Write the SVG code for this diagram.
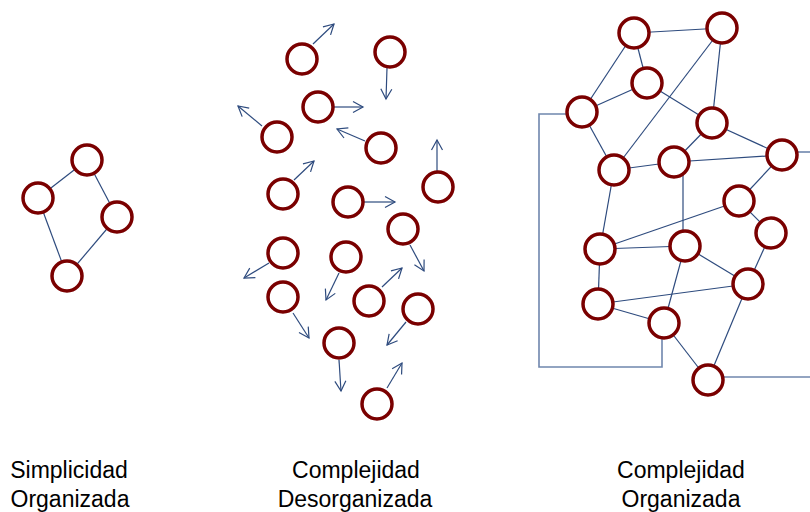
<svg xmlns="http://www.w3.org/2000/svg" width="810" height="512" viewBox="0 0 810 512">
<style>
.n{fill:#fff;stroke:#7a0000;stroke-width:3.5}
.e{stroke:#2e4b7e;stroke-width:1.2;fill:none}
.a{stroke:#2e4b7e;stroke-width:1.2;fill:none;marker-end:url(#ah)}
.p{stroke:#6f86ad;stroke-width:1.6;fill:none}
.t{font-family:"Liberation Sans",Arial,sans-serif;font-size:23px;fill:#000;text-anchor:middle}
</style>
<defs>
<marker id="ah" markerUnits="userSpaceOnUse" markerWidth="14" markerHeight="14" viewBox="-12 -7 14 14" refX="0" refY="0" orient="auto">
<path d="M-10,-5.5 L0,0 L-10,5.5" fill="none" stroke="#2e4b7e" stroke-width="1.2"/>
</marker>
</defs>
<rect width="810" height="512" fill="#fff"/>
<g id="connectors">
<line class="e" x1="87" y1="160" x2="38" y2="198"/>
<line class="e" x1="87" y1="160" x2="117" y2="217"/>
<line class="e" x1="38" y1="198" x2="67" y2="276"/>
<line class="e" x1="117" y1="217" x2="67" y2="276"/>
<line class="a" x1="313" y1="44" x2="334" y2="24"/>
<line class="a" x1="387" y1="68" x2="386" y2="99"/>
<line class="a" x1="333" y1="107" x2="363" y2="107"/>
<line class="a" x1="262" y1="126" x2="238" y2="106"/>
<line class="a" x1="365" y1="141" x2="337" y2="129"/>
<line class="a" x1="437" y1="171" x2="437" y2="140"/>
<line class="a" x1="294" y1="180" x2="314" y2="161"/>
<line class="a" x1="364" y1="202" x2="395" y2="202"/>
<line class="a" x1="410" y1="245" x2="424" y2="271"/>
<line class="a" x1="269" y1="263" x2="244" y2="278"/>
<line class="a" x1="339" y1="273" x2="326" y2="300"/>
<line class="a" x1="382" y1="287" x2="402" y2="268"/>
<line class="a" x1="293" y1="313" x2="309" y2="338"/>
<line class="a" x1="406" y1="322" x2="387" y2="345"/>
<line class="a" x1="339" y1="360" x2="341" y2="391"/>
<line class="a" x1="387" y1="388" x2="402" y2="363"/>
<line class="e" x1="634" y1="33" x2="722" y2="28"/>
<line class="e" x1="634" y1="33" x2="582" y2="112"/>
<line class="e" x1="634" y1="33" x2="647" y2="83"/>
<line class="e" x1="647" y1="83" x2="582" y2="112"/>
<line class="e" x1="722" y1="28" x2="614" y2="170"/>
<line class="e" x1="722" y1="28" x2="712" y2="123"/>
<line class="e" x1="647" y1="83" x2="712" y2="123"/>
<line class="e" x1="582" y1="112" x2="614" y2="170"/>
<line class="e" x1="614" y1="170" x2="674" y2="162"/>
<line class="e" x1="712" y1="123" x2="674" y2="162"/>
<line class="e" x1="712" y1="123" x2="782" y2="155"/>
<line class="e" x1="674" y1="162" x2="782" y2="155"/>
<line class="p" x1="798" y1="152" x2="810" y2="152"/>
<line class="e" x1="782" y1="155" x2="739" y2="201"/>
<line class="e" x1="614" y1="170" x2="600" y2="249"/>
<line class="e" x1="683" y1="162" x2="683" y2="246"/>
<line class="e" x1="739" y1="201" x2="600" y2="249"/>
<line class="e" x1="739" y1="201" x2="771" y2="233"/>
<line class="e" x1="600" y1="249" x2="685" y2="246"/>
<line class="e" x1="685" y1="246" x2="748" y2="284"/>
<line class="e" x1="771" y1="233" x2="748" y2="284"/>
<line class="e" x1="600" y1="249" x2="598" y2="304"/>
<line class="e" x1="598" y1="304" x2="748" y2="284"/>
<line class="e" x1="598" y1="304" x2="664" y2="323"/>
<line class="e" x1="685" y1="246" x2="664" y2="323"/>
<line class="e" x1="664" y1="323" x2="708" y2="380"/>
<line class="e" x1="748" y1="284" x2="708" y2="380"/>
<line class="p" x1="722" y1="377" x2="810" y2="377"/>
<polyline class="p" points="566,114 539,114 539,367 662,367 662,339"/>
</g>
<g id="n-s1"><circle class="n" cx="87" cy="160" r="15"/></g>
<g id="n-s2"><circle class="n" cx="38" cy="198" r="15"/></g>
<g id="n-s3"><circle class="n" cx="117" cy="217" r="15"/></g>
<g id="n-s4"><circle class="n" cx="67" cy="276" r="15"/></g>
<g id="n-d1"><circle class="n" cx="302" cy="59" r="15"/></g>
<g id="n-d2"><circle class="n" cx="390" cy="52" r="15"/></g>
<g id="n-d3"><circle class="n" cx="318" cy="107" r="15"/></g>
<g id="n-d4"><circle class="n" cx="277" cy="137" r="15"/></g>
<g id="n-d5"><circle class="n" cx="381" cy="148" r="15"/></g>
<g id="n-d6"><circle class="n" cx="438" cy="187" r="15"/></g>
<g id="n-d7"><circle class="n" cx="283" cy="194" r="15"/></g>
<g id="n-d8"><circle class="n" cx="348" cy="202" r="15"/></g>
<g id="n-d9"><circle class="n" cx="403" cy="229" r="15"/></g>
<g id="n-d10"><circle class="n" cx="283" cy="253" r="15"/></g>
<g id="n-d11"><circle class="n" cx="346" cy="257" r="15"/></g>
<g id="n-d12"><circle class="n" cx="369" cy="301" r="15"/></g>
<g id="n-d13"><circle class="n" cx="283" cy="297" r="15"/></g>
<g id="n-d14"><circle class="n" cx="418" cy="309" r="15"/></g>
<g id="n-d15"><circle class="n" cx="339" cy="343" r="15"/></g>
<g id="n-d16"><circle class="n" cx="377" cy="404" r="15"/></g>
<g id="n-r1"><circle class="n" cx="634" cy="33" r="15"/></g>
<g id="n-r2"><circle class="n" cx="722" cy="28" r="15"/></g>
<g id="n-r3"><circle class="n" cx="647" cy="83" r="15"/></g>
<g id="n-r4"><circle class="n" cx="582" cy="112" r="15"/></g>
<g id="n-r5"><circle class="n" cx="712" cy="123" r="15"/></g>
<g id="n-r6"><circle class="n" cx="614" cy="170" r="15"/></g>
<g id="n-r7"><circle class="n" cx="674" cy="162" r="15"/></g>
<g id="n-r8"><circle class="n" cx="782" cy="155" r="15"/></g>
<g id="n-r9"><circle class="n" cx="739" cy="201" r="15"/></g>
<g id="n-r10"><circle class="n" cx="771" cy="233" r="15"/></g>
<g id="n-r11"><circle class="n" cx="600" cy="249" r="15"/></g>
<g id="n-r12"><circle class="n" cx="685" cy="246" r="15"/></g>
<g id="n-r13"><circle class="n" cx="748" cy="284" r="15"/></g>
<g id="n-r14"><circle class="n" cx="598" cy="304" r="15"/></g>
<g id="n-r15"><circle class="n" cx="664" cy="323" r="15"/></g>
<g id="n-r16"><circle class="n" cx="708" cy="380" r="15"/></g>
<g id="labels">
<text class="t" x="69" y="478">Simplicidad</text>
<text class="t" x="70" y="507">Organizada</text>
<text class="t" x="356" y="478">Complejidad</text>
<text class="t" x="355" y="507">Desorganizada</text>
<text class="t" x="681" y="478">Complejidad</text>
<text class="t" x="681" y="507">Organizada</text>
</g>
</svg>
